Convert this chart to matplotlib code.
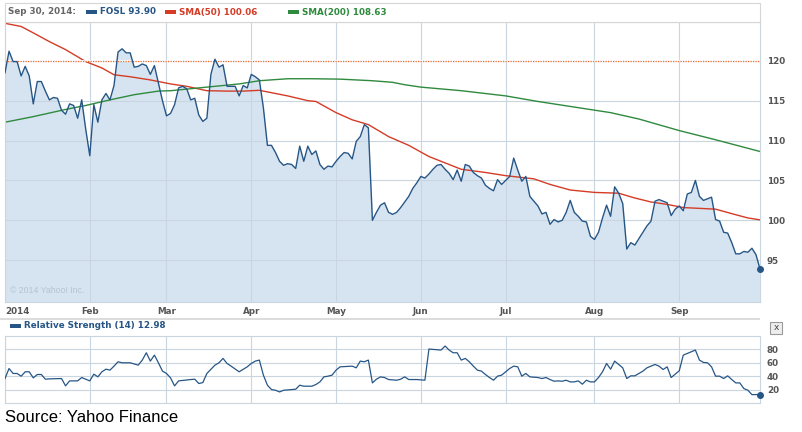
import numpy as np
import pandas as pd
import matplotlib
matplotlib.use("Agg")
import matplotlib.pyplot as plt
from matplotlib.patches import Rectangle

W, H = 803, 432

# daily closes, Jan 2 .. Sep 30 2014
fosl = [118.5, 121.2, 119.9, 119.9, 118.1, 119.3, 118.1, 114.6, 117.4, 117.4,
        116.2, 115.1, 115.4, 115.3, 113.8, 113.3, 114.6, 114.4, 112.8, 115.1,
        111.4, 108.1, 114.5, 112.3, 115.1, 115.9, 115.1, 116.9, 121.1, 121.5,
        121.0, 121.0, 119.2, 119.3, 119.6, 119.4, 118.3, 119.4, 117.2, 115.0,
        113.1, 113.4, 114.5, 116.6, 116.8, 116.5, 115.1, 115.3, 113.2, 112.4,
        112.8, 118.3, 120.2, 119.2, 119.5, 116.8, 116.8, 116.8, 115.6, 116.9,
        116.6, 118.3, 118.0, 117.6, 114.1, 109.4, 109.4, 108.5, 107.4, 106.9,
        107.1, 107.0, 106.5, 109.3, 107.4, 109.3, 108.25, 108.7, 107.0, 106.4,
        106.8, 106.7, 107.4, 108.0, 108.5, 108.4, 107.7, 109.9, 110.5, 112.0,
        111.6, 100.0, 101.0, 101.9, 102.2, 101.0, 100.75, 101.0, 101.6, 102.3,
        103.0, 104.0, 104.7, 105.5, 105.3, 105.8, 106.4, 106.9, 107.0, 106.4,
        105.9, 105.1, 106.3, 104.9, 107.0, 106.8, 106.0, 105.6, 105.3, 104.4,
        104.0, 103.7, 105.1, 104.5, 105.0, 105.5, 107.8, 106.3, 104.9, 105.5,
        103.0, 102.4, 101.8, 100.8, 101.0, 99.5, 100.1, 99.8, 100.0, 101.0,
        102.5, 101.0, 100.5, 99.9, 99.8, 98.0, 97.6, 98.5, 100.3, 101.9,
        100.5, 104.2, 103.4, 102.1, 96.4, 97.2, 96.9, 97.7, 98.5, 99.3,
        99.9, 102.4, 102.6, 102.4, 102.2, 100.6, 101.4, 101.8, 101.2, 103.3,
        103.5, 105.0, 103.0, 102.5, 102.7, 102.9, 100.1, 99.9, 98.5, 98.4,
        97.2, 95.8, 95.8, 96.1, 96.0, 96.5, 95.7, 93.9]

sma50_day = [0, 4, 7, 11, 15, 20, 24, 27, 31, 36, 41, 45, 50, 55, 59, 63, 66,
             70, 75, 77, 82, 86, 90, 95, 100, 105, 109, 113, 119, 124, 131,
             135, 140, 146, 152, 156, 160, 164, 168, 172, 176, 181, 184, 187]
sma50 = [124.7, 124.3, 123.5, 122.4, 121.4, 119.9, 119.1, 118.25, 118.0, 117.6,
         117.1, 116.8, 116.25, 116.2, 116.2, 116.3, 116.0, 115.6, 115.0, 114.9,
         113.5, 112.6, 112.0, 110.5, 109.4, 108.0, 107.2, 106.4, 106.0, 105.6,
         105.2, 104.5, 103.8, 103.5, 103.4, 102.8, 102.3, 102.0, 101.6, 101.5,
         101.4, 100.7, 100.3, 100.06]

sma200_day = [0, 7, 15, 20, 26, 32, 38, 41, 50, 58, 63, 70, 76, 83, 91, 96, 99,
              103, 113, 124, 132, 141, 150, 157, 167, 176, 187]
sma200 = [112.3, 113.0, 113.9, 114.4, 115.1, 115.75, 116.2, 116.25, 116.7, 117.1,
          117.5, 117.75, 117.75, 117.7, 117.5, 117.3, 117.0, 116.7, 116.25, 115.6,
          114.9, 114.2, 113.5, 112.7, 111.25, 110.1, 108.63]

rsi_day = [0, 1, 2, 3, 4, 5, 6, 7, 8, 9, 10, 11, 14, 15, 16, 18, 19, 21, 22, 23,
           24, 25, 26, 27, 28, 29, 31, 33, 34, 35, 36, 37, 38, 39, 40, 41, 42, 43,
           46, 47, 48, 49, 50, 52, 53, 54, 55, 56, 58, 60, 61, 62, 63, 64, 65, 66,
           67, 68, 69, 71, 72, 73, 74, 76, 77, 78, 79, 80, 81, 82, 83, 86, 87, 88,
           89, 90, 91, 92, 93, 94, 95, 97, 98, 99, 100, 101, 102, 104, 105, 106,
           108, 109, 110, 111, 112, 113, 114, 115, 116, 117, 118, 119, 120, 121,
           122, 123, 124, 125, 126, 127, 128, 129, 130, 132, 133, 134, 135, 136,
           137, 138, 139, 140, 141, 142, 143, 144, 145, 146, 147, 148, 149, 150,
           151, 152, 153, 154, 155, 156, 157, 158, 159, 160, 161, 162, 163, 164,
           165, 166, 167, 168, 169, 170, 171, 172, 173, 174, 175, 176, 177, 178,
           179, 180, 181, 182, 183, 184, 185, 186, 187]
rsi = [36.8, 51.7, 44.3, 44.3, 40.3, 46.8, 46.8, 37.8, 42.8, 42.8, 35.8, 36.3,
       36.8, 25.9, 33.3, 33.3, 38.3, 33.3, 43.3, 39.3, 46.8, 50.7, 49.3, 55.2,
       61.7, 60.2, 60.2, 56.7, 64.2, 75.1, 62.7, 71.6, 60.2, 47.8, 44.3, 37.8,
       25.9, 33.3, 35.3, 35.8, 29.4, 30.8, 44.3, 56.7, 60.2, 66.7, 59.2, 55.2,
       46.8, 54.2, 59.2, 62.7, 64.2, 41.8, 26.9, 20.4, 19.4, 16.9, 19.4, 20.4,
       20.9, 26.9, 25.4, 25.4, 27.9, 31.8, 39.3, 40.3, 41.8, 49.3, 54.2, 55.2,
       52.7, 62.7, 61.7, 64.2, 30.3, 35.8, 39.3, 38.3, 35.3, 34.3, 35.8, 39.3,
       35.3, 35.3, 35.3, 34.3, 80.6, 80.1, 79.1, 85.1, 79.1, 75.1, 75.1, 64.2,
       66.7, 61.7, 55.2, 49.3, 47.8, 42.8, 38.3, 34.3, 40.3, 41.8, 46.8, 51.7,
       55.2, 54.2, 40.3, 44.3, 39.3, 38.3, 36.8, 38.3, 35.3, 32.8, 33.3, 32.8,
       34.3, 31.8, 31.8, 33.3, 28.4, 34.3, 31.8, 31.8, 38.3, 46.8, 59.2, 50.7,
       62.7, 57.7, 52.7, 36.8, 40.8, 40.8, 44.3, 47.8, 52.7, 55.2, 57.7, 55.2,
       50.2, 54.2, 38.3, 43.3, 48.3, 71.6, 74.1, 76.6, 79.1, 64.2, 60.7, 60.2,
       54.2, 40.3, 40.3, 36.8, 40.8, 35.3, 30.3, 30.3, 21.9, 19.4, 12.9, 12.9,
       12.98]

price_ticks = [95, 100, 105, 110, 115, 120]
rsi_ticks = [20, 40, 60, 80]
month_labels = ['2014', 'Feb', 'Mar', 'Apr', 'May', 'Jun', 'Jul', 'Aug', 'Sep']
holidays = ['2014-01-20', '2014-02-17', '2014-04-18', '2014-05-26',
            '2014-07-04', '2014-09-01']

days = pd.bdate_range('2014-01-02', '2014-09-30')
days = days[~days.isin(pd.to_datetime(holidays))]
month_start = np.flatnonzero(np.r_[True, days.month[1:] != days.month[:-1]])
x = np.arange(len(fosl))

BLUE = '#275686'
FILL = '#d5e4f0'
RED = '#d43c26'
GREEN = '#2f8a3e'
GRID = '#c9d5df'
LBL = '#555555'
FS = 6.3


def fx(px):
    return px / W


def fy(py):
    return 1 - py / H


fig = plt.figure(figsize=(W / 100, H / 100), dpi=100)
fig.patch.set_facecolor('white')

# legend strip
fig.add_artist(Rectangle((fx(5), fy(21.7)), 755 / W, 18.4 / H, transform=fig.transFigure,
                         facecolor='white', edgecolor='#d6d6d6', lw=0.8))
fig.text(fx(8), fy(12), 'Sep 30, 2014:', color='#666666', fontsize=FS, fontweight='bold', va='center')
for x0, col, txt in [(86, BLUE, 'FOSL 93.90'), (165, RED, 'SMA(50) 100.06'),
                     (288, GREEN, 'SMA(200) 108.63')]:
    fig.add_artist(Rectangle((fx(x0), fy(14)), 11 / W, 4 / H, transform=fig.transFigure,
                             facecolor=col, edgecolor='none'))
    fig.text(fx(x0 + 14), fy(12), txt, color=col, fontsize=FS, fontweight='bold', va='center')

# price panel
ax = fig.add_axes([fx(5), fy(301.7), 755 / W, 280 / H])
ax.fill_between(x, fosl, 80, color=FILL, lw=0, zorder=0.2)
ax.plot(x, fosl, color=BLUE, lw=1.0, zorder=3)
ax.plot(x[-1], fosl[-1], 'o', color=BLUE, ms=4, zorder=4, clip_on=False)
ax.plot(sma50_day, sma50, color=RED, lw=1.0, zorder=2)
ax.plot(sma200_day, sma200, color=GREEN, lw=1.0, zorder=2)
ax.axhline(120, color='white', lw=1.2, zorder=2.4)
ax.axhline(120, color='#ec6a30', lw=0.9, ls=(0, (1, 1)), zorder=2.5)
ax.set_xlim(0, len(fosl) - 1)
ax.set_ylim(89.8, 124.9)
ax.set_yticks(price_ticks)
ax.set_xticks(month_start)
ax.set_xticklabels(month_labels)
ax.get_xticklabels()[0].set_ha('left')
ax.yaxis.tick_right()
ax.tick_params(length=0, labelsize=FS, labelcolor=LBL)
ax.tick_params(axis='y', pad=5)
ax.tick_params(axis='x', pad=4)
for lab in ax.get_xticklabels() + ax.get_yticklabels():
    lab.set_fontweight('bold')
ax.grid(color=GRID, lw=0.8)
ax.set_axisbelow(True)
for sp in ax.spines.values():
    sp.set_color(GRID)
    sp.set_linewidth(0.8)
ax.text(0.007, 0.025, '\u00a9 2014 Yahoo! Inc.', transform=ax.transAxes, color='#b3c3d3',
        fontsize=6.3, family='Liberation Sans', va='bottom')

# separator band
fig.add_artist(Rectangle((0, fy(320)), 760 / W, 2.5 / H, transform=fig.transFigure,
                         facecolor='#dcdcdc', edgecolor='none'))

# RSI header and close box
fig.add_artist(Rectangle((fx(10), fy(328)), 11 / W, 4 / H, transform=fig.transFigure,
                         facecolor=BLUE, edgecolor='none'))
fig.text(fx(24), fy(326), 'Relative Strength (14) 12.98', color=BLUE, fontsize=FS,
         fontweight='bold', va='center')
fig.add_artist(Rectangle((fx(770), fy(334)), 12 / W, 12 / H, transform=fig.transFigure,
                         facecolor='#eeeeee', edgecolor='#9a9a9a', lw=0.8))
fig.text(fx(776), fy(327.5), 'x', color='#444444', fontsize=6.5, ha='center', va='center')

# RSI panel
ax2 = fig.add_axes([fx(5), fy(403.3), 755 / W, 67.3 / H])
ax2.plot(rsi_day, rsi, color=BLUE, lw=0.9, zorder=3)
ax2.plot(rsi_day[-1], rsi[-1], 'o', color=BLUE, ms=4, zorder=4, clip_on=False)
ax2.set_xlim(0, len(fosl) - 1)
ax2.set_ylim(0, 100)
ax2.set_yticks(rsi_ticks)
ax2.set_xticks(month_start)
ax2.set_xticklabels([])
ax2.yaxis.tick_right()
ax2.tick_params(length=0, labelsize=FS, labelcolor=LBL, pad=5)
for lab in ax2.get_yticklabels():
    lab.set_fontweight('bold')
ax2.grid(color=GRID, lw=0.8)
ax2.set_axisbelow(True)
for sp in ax2.spines.values():
    sp.set_color(GRID)
    sp.set_linewidth(0.8)

fig.text(fx(5), fy(418), 'Source: Yahoo Finance', color='black', fontsize=12,
         family='Liberation Sans', va='center')

fig.savefig('out.png', dpi=100)
